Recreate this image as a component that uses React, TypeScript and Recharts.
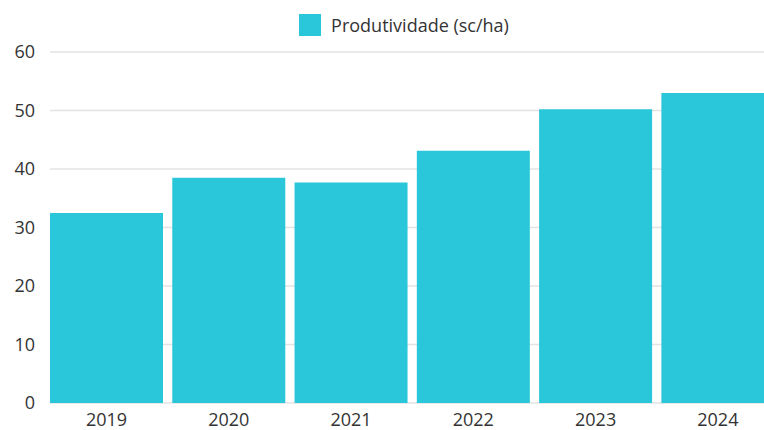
import { BarChart, Bar, XAxis, YAxis, CartesianGrid, Legend } from 'recharts'

const YEARS = ['2019', '2020', '2021', '2022', '2023', '2024']
const PRODUTIVIDADE = [32.5, 38.5, 37.7, 43.1, 50.2, 53.0]
const Y_TICKS = [0, 10, 20, 30, 40, 50, 60]

const BAR_COLOR = '#2AC6D9'
const TEXT_COLOR = '#333333'
const FONT = '"Open Sans", sans-serif'

const data = YEARS.map((year, i) => ({ year, value: PRODUTIVIDADE[i] }))

// Legend drawn centred over the plot, like the reference
function LegendBox() {
  return (
    <div style={{ display: 'flex', justifyContent: 'center', alignItems: 'center', fontFamily: FONT }}>
      <span style={{ width: 22, height: 22, background: BAR_COLOR, display: 'inline-block', marginRight: 10 }} />
      <span style={{ fontSize: 18, color: TEXT_COLOR }}>Produtividade (sc/ha)</span>
    </div>
  )
}

export default function App() {
  return (
    <div style={{ position: 'absolute', left: 0, top: 0, width: 764, height: 430, background: '#fff' }}>
      <BarChart
        width={764}
        height={430}
        data={data}
        margin={{ top: 52, right: -15, left: 0, bottom: 0 }}
        barCategoryGap={4.65}
      >
        <CartesianGrid vertical={false} stroke="#e3e3e3" strokeWidth={1.5} />
        <XAxis
          dataKey="year"
          height={27}
          axisLine={false}
          tickLine={false}
          tickMargin={4}
          padding={{ left: -4.65, right: 0 }}
          tick={{ fontSize: 18, fill: TEXT_COLOR, fontFamily: FONT }}
        />
        <YAxis
          width={50}
          domain={[0, 60]}
          ticks={Y_TICKS}
          axisLine={false}
          tickLine={false}
          tickMargin={9}
          tick={{ fontSize: 18, fill: TEXT_COLOR, fontFamily: FONT }}
        />
        <Legend
          verticalAlign="middle"
          layout="horizontal"
          wrapperStyle={{ top: 13, left: 47, width: 714 }}
          content={() => <LegendBox />}
        />
        <Bar dataKey="value" fill={BAR_COLOR} isAnimationActive={false} />
      </BarChart>
    </div>
  )
}
